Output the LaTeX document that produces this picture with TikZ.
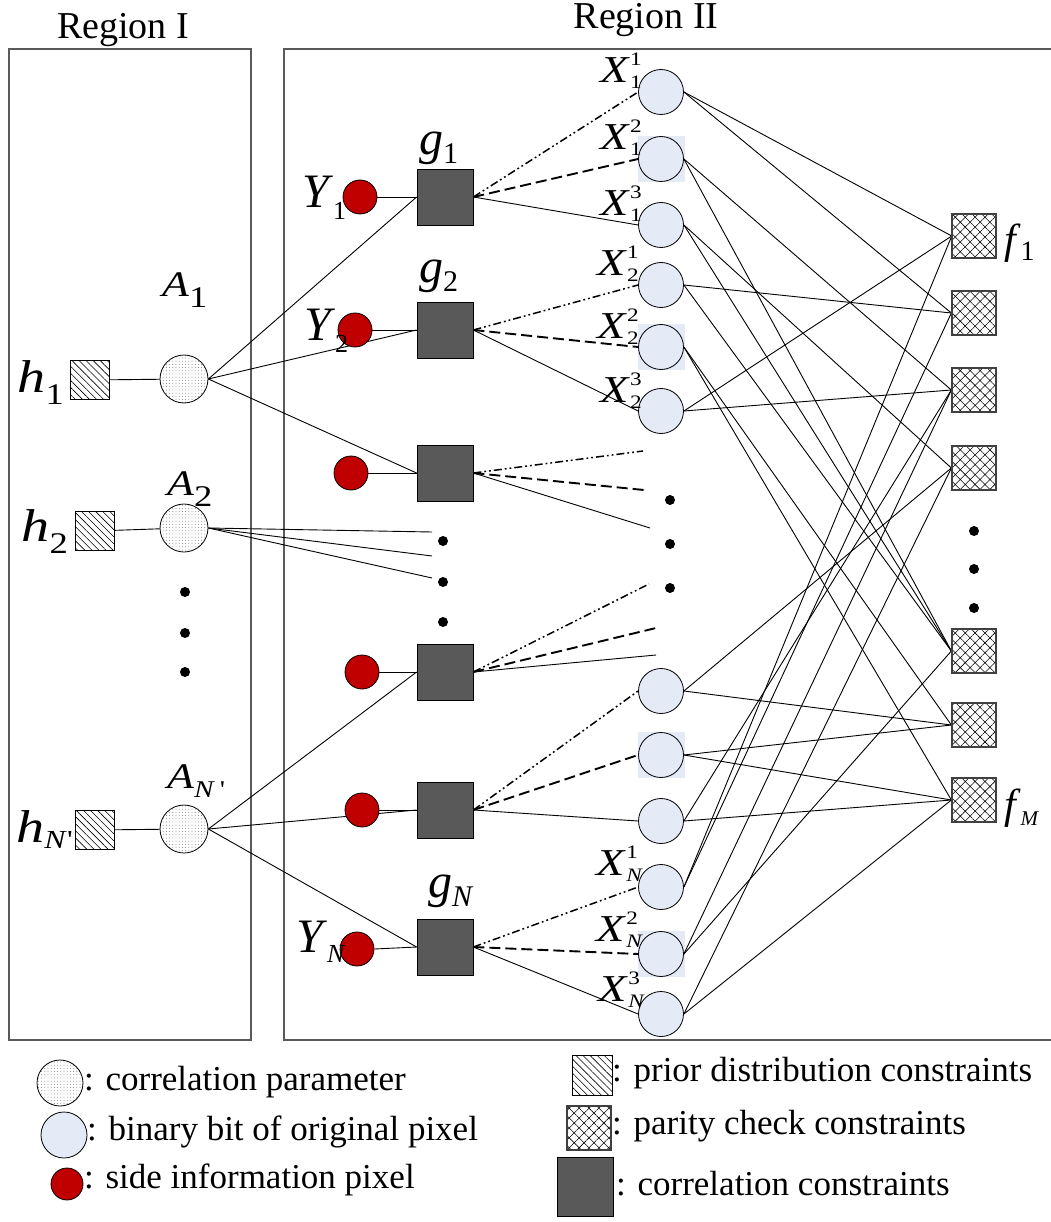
\documentclass[tikz,border=0pt]{standalone}
\usepackage{graphicx}
\usepackage{fontspec}
\setmainfont{Liberation Serif}
\usetikzlibrary{patterns.meta,backgrounds}

\definecolor{bitblue}{HTML}{E4EAF6}
\definecolor{sidered}{HTML}{C00000}
\definecolor{corrgray}{HTML}{595959}
\definecolor{framegray}{HTML}{5A5A5A}

\newcommand\Lfs[1]{\fontsize{#1}{#1}\selectfont}
% italic symbol with a lowered subscript: size, letter, sub size, drop, sub
\newcommand\SubLab[5]{{\Lfs{#1}\textit{#2}}\raisebox{-#4}{\Lfs{#3}#5}}
% the same, set a little wider
\newcommand\WideLab[5]{\scalebox{1.22}[1]{\SubLab{#1}{#2}{#3}{#4}{#5}}}
% bit label X with subscript #1 and superscript #2
\newcommand\XLab[2]{\scalebox{1.22}[1]{{\Lfs{38}\textit{X}}\Lfs{19}\rlap{\raisebox{17pt}{#2}}\raisebox{-6pt}{#1}}}

\begin{document}
\begin{tikzpicture}[x=1pt,y=-1pt,
  frame/.style={draw=framegray,line width=1.2pt},
  param/.style={circle,draw,minimum size=48pt,inner sep=0pt,line width=0.8pt,
    pattern={Dots[distance=3.2pt,radius=0.45pt]},pattern color=black!60},
  bitnode/.style={circle,draw,fill=bitblue,minimum size=45pt,inner sep=0pt,line width=0.8pt},
  sidenode/.style={circle,draw,fill=sidered,minimum size=34pt,inner sep=0pt,line width=0.8pt},
  corrbox/.style={rectangle,draw,fill=corrgray,minimum size=56pt,inner sep=0pt,line width=0.8pt},
  priorbox/.style={rectangle,draw,minimum size=39pt,inner sep=0pt,line width=0.8pt,
    pattern={Lines[angle=-45,distance=5pt,line width=0.6pt]}},
  paritybox/.style={rectangle,draw=black!75,minimum size=44pt,inner sep=0pt,line width=1.3pt,
    pattern={Hatch[angle=45,distance=7pt,line width=0.55pt]}},
  link/.style={line width=0.9pt},
  dashlink/.style={line width=1.9pt,dash pattern=on 11pt off 5pt},
  ddlink/.style={line width=1.5pt,dash pattern=on 8pt off 3pt on 1.8pt off 3pt on 1.8pt off 3pt},
  dotmark/.style={circle,fill,minimum size=10pt,inner sep=0pt},
  lab/.style={inner sep=0pt},
  legtext/.style={inner sep=0pt,anchor=west,font=\Lfs{35}}
]
\useasboundingbox (0,0) rectangle (1050,1222);

% ---------- region titles ----------
\node[lab,anchor=base] (tI) at (123,39) {\Lfs{38}Region I};
\node[lab,anchor=base] (tII) at (646,29) {\Lfs{38}Region II};

% ---------- region I ----------
\node[priorbox] (h1) at (90,380) {};
\node[priorbox] (h2) at (95,531) {};
\node[priorbox] (hN) at (95,830) {};
\node[param] (A1) at (184,379) {};
\node[param] (A2) at (184,528) {};
\node[param] (AN) at (184,829) {};

\node[lab,anchor=base east] (lh1) at (64,392) {\WideLab{46}{h}{30}{12pt}{1}};
\node[lab,anchor=base east] (lh2) at (68,541) {\WideLab{46}{h}{30}{12pt}{2}};
\node[lab,anchor=base east] (lhN) at (73,842) {\WideLab{46}{h}{26}{6pt}{\textit{N}\textquotesingle}};
\node[lab,anchor=base west] (lA1) at (162,297) {\WideLab{36}{A}{30}{11pt}{1}};
\node[lab,anchor=base west] (lA2) at (167,495) {\WideLab{36}{A}{30}{11pt}{2}};
\node[lab,anchor=base west] (lAN) at (167,788) {\WideLab{36}{A}{24}{9pt}{\textit{N}\,\textquotesingle}};

\node[dotmark] (ld1) at (185,592) {};
\node[dotmark] (ld2) at (185,633) {};
\node[dotmark] (ld3) at (185,672) {};

% ---------- region II: side information and correlation constraints ----------
\node[sidenode] (Y1) at (360,197) {};
\node[sidenode] (Y2) at (355,330) {};
\node[sidenode] (Y3) at (351,473) {};
\node[sidenode] (Y4) at (362,672) {};
\node[sidenode] (Y5) at (362,810) {};
\node[sidenode] (YN) at (357,949) {};
\node[corrbox] (g1) at (445,197) {};
\node[corrbox] (g2) at (445,330) {};
\node[corrbox] (g3) at (445,473) {};
\node[corrbox] (g4) at (445,672) {};
\node[corrbox] (g5) at (445,810) {};
\node[corrbox] (gN) at (445,947) {};

\node[lab,anchor=base west] (lY1) at (302,208) {\SubLab{48}{Y}{26}{12pt}{1}};
\node[lab,anchor=base west] (lY2) at (304,340) {\SubLab{48}{Y}{26}{12pt}{2}};
\node[lab,anchor=base west] (lYN) at (296,952) {\SubLab{48}{Y}{26}{10pt}{\textit{N}}};
\node[lab,anchor=base west] (lg1) at (419,155) {\SubLab{48}{g}{30}{9pt}{1}};
\node[lab,anchor=base west] (lg2) at (419,283) {\SubLab{48}{g}{30}{9pt}{2}};
\node[lab,anchor=base west] (lgN) at (428,897) {\SubLab{48}{g}{30}{9pt}{\textit{N}}};

\node[dotmark] (md1) at (443,541) {};
\node[dotmark] (md2) at (443,582) {};
\node[dotmark] (md3) at (443,622) {};
\node[dotmark] (rd1) at (670,500) {};
\node[dotmark] (rd2) at (670,544) {};
\node[dotmark] (rd3) at (670,588) {};

% ---------- bits of the original pixels ----------
\foreach \n/\y in {1/92,2/159,3/225,4/285,5/347,6/411,7/691,8/755,9/821,10/887,11/954,12/1014}
  \node[bitnode] (c\n) at (661,\y) {};

\node[lab,anchor=base east] (lx11) at (642,83) {\XLab{1}{1}};
\node[lab,anchor=base east] (lx12) at (642,150) {\XLab{1}{2}};
\node[lab,anchor=base east] (lx13) at (642,216) {\XLab{1}{3}};
\node[lab,anchor=base east] (lx21) at (639,276) {\XLab{2}{1}};
\node[lab,anchor=base east] (lx22) at (639,338) {\XLab{2}{2}};
\node[lab,anchor=base east] (lx23) at (642,402) {\XLab{2}{3}};
\node[lab,anchor=base east] (lxN1) at (643,875) {\XLab{\textit{N}}{1}};
\node[lab,anchor=base east] (lxN2) at (643,941) {\XLab{\textit{N}}{2}};
\node[lab,anchor=base east] (lxN3) at (645,1001) {\XLab{\textit{N}}{3}};

% ---------- parity check constraints ----------
\foreach \n/\y in {1/236,2/313,3/390,4/468,5/651,6/725,7/800}
  \node[paritybox] (f\n) at (974,\y) {};
\node[dotmark] (fd1) at (974,531) {};
\node[dotmark] (fd2) at (974,569) {};
\node[dotmark] (fd3) at (974,608) {};
\node[lab,anchor=base west] (lf1) at (1004,254) {\SubLab{42}{f}{28}{7pt}{1}};
\node[lab,anchor=base west] (lfM) at (1004,818) {\SubLab{42}{f}{21}{7pt}{\textit{M}}};

% free ends of the elided branches
\coordinate (e1) at (432,532);
\coordinate (e2) at (432,556);
\coordinate (e3) at (432,578);
\coordinate (u1) at (643,451);
\coordinate (u2) at (644,490);
\coordinate (u3) at (650,528);
\coordinate (v1) at (649,584);
\coordinate (v2) at (656,628);
\coordinate (v3) at (656,655);

% ---------- legend ----------
\node[param,minimum size=46pt] (k1) at (60,1083) {};
\node[bitnode,minimum size=46pt] (k2) at (64,1135) {};
\node[sidenode,minimum size=32pt] (k3) at (67,1184) {};
\node[legtext] (k1t) at (84,1082) {: correlation parameter};
\node[legtext] (k2t) at (87,1132) {: binary bit of original pixel};
\node[legtext] (k3t) at (84,1180) {: side information pixel};
\node[priorbox,minimum size=40pt] (k4) at (592,1075) {};
\node[paritybox,minimum size=44pt] (k5) at (589,1128) {};
\node[corrbox,minimum width=56pt,minimum height=59pt] (k6) at (585,1187) {};
\node[legtext] (k4t) at (612,1073) {: prior distribution constraints};
\node[legtext] (k5t) at (612,1126) {: parity check constraints};
\node[legtext] (k6t) at (616,1184) {: correlation constraints};

% ---------- frames and connectors, behind the nodes ----------
\begin{scope}[on background layer]
  \draw[frame] (9,49) rectangle (251,1040);
  \draw[frame] (1070,49) -- (284,49) -- (284,1040) -- (1070,1040);
  % pale squares behind the second bit of each pixel
  \foreach \y in {159,347,755,954}
    \fill[bitblue] (638,\y-23) rectangle (685,\y+23);

  \draw[link] (h1) -- (A1);
  \draw[link] (h2) -- (A2);
  \draw[link] (hN) -- (AN);
  \draw[link] (A1.east) -- (g1.west);
  \draw[link] (A1.east) -- (g2.west);
  \draw[link] (A1.east) -- (g3.west);
  \draw[link] (A2.east) -- (e1);
  \draw[link] (A2.east) -- (e2);
  \draw[link] (A2.east) -- (e3);
  \draw[link] (AN.east) -- (g4.west);
  \draw[link] (AN.east) -- (g5.west);
  \draw[link] (AN.east) -- (gN.west);

  \foreach \a/\b in {Y1/g1,Y2/g2,Y3/g3,Y4/g4,Y5/g5,YN/gN}
    \draw[link] (\a.east) -- (\b.west);

  \draw[ddlink] (g1.east) -- (c1.west);
  \draw[dashlink] (g1.east) -- (c2.west);
  \draw[link] (g1.east) -- (c3.west);
  \draw[ddlink] (g2.east) -- (c4.west);
  \draw[dashlink] (g2.east) -- (c5.west);
  \draw[link] (g2.east) -- (c6.west);
  \draw[ddlink] (g3.east) -- (u1);
  \draw[dashlink] (g3.east) -- (u2);
  \draw[link] (g3.east) -- (u3);
  \draw[ddlink] (g4.east) -- (v1);
  \draw[dashlink] (g4.east) -- (v2);
  \draw[link] (g4.east) -- (v3);
  \draw[ddlink] (g5.east) -- (c7.west);
  \draw[dashlink] (g5.east) -- (c8.west);
  \draw[link] (g5.east) -- (c9.west);
  \draw[ddlink] (gN.east) -- (c10.west);
  \draw[dashlink] (gN.east) -- (c11.west);
  \draw[link] (gN.east) -- (c12.west);

  % bit-to-check connections
  \foreach \c/\f in {c1/f1,c1/f2,c2/f3,c2/f5,c3/f4,c3/f5,c4/f2,c4/f5,
                     c5/f6,c5/f7,c6/f1,c6/f3,c7/f4,c7/f6,c8/f6,c8/f7,c9/f7,c9/f3,
                     c10/f1,c10/f2,c11/f5,c11/f3,c12/f7,c12/f4}
    \draw[link] (\c.east) -- (\f.west);
\end{scope}
\end{tikzpicture}
\end{document}
